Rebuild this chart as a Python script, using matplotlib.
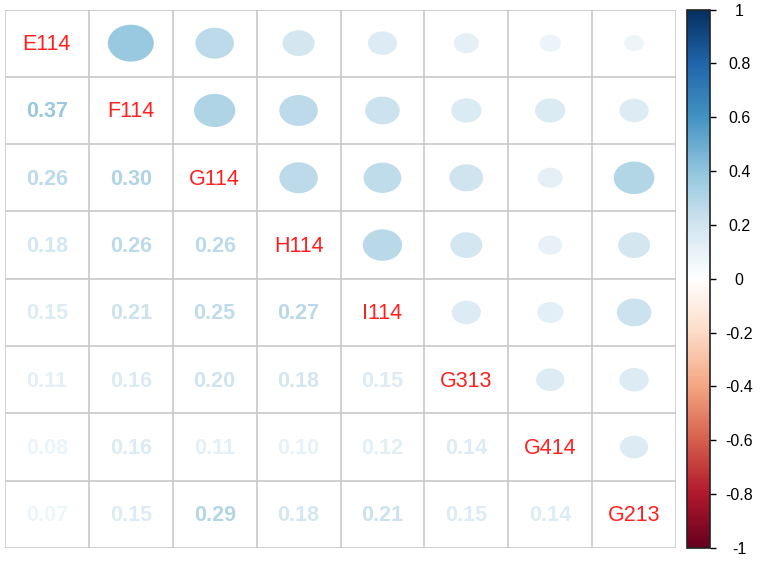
import numpy as np
import matplotlib
matplotlib.use("Agg")
import matplotlib.pyplot as plt
from matplotlib.colors import LinearSegmentedColormap, Normalize
from matplotlib.patches import Ellipse
import matplotlib.colorbar as mcolorbar

labels = ["E114", "F114", "G114", "H114", "I114", "G313", "G414", "G213"]
lower_rows = [
    [],
    [0.37],
    [0.26, 0.30],
    [0.18, 0.26, 0.26],
    [0.15, 0.21, 0.25, 0.27],
    [0.11, 0.16, 0.20, 0.18, 0.15],
    [0.08, 0.16, 0.11, 0.10, 0.12, 0.14],
    [0.07, 0.15, 0.29, 0.18, 0.21, 0.15, 0.14],
]
cbar_ticks = [-1, -0.8, -0.6, -0.4, -0.2, 0, 0.2, 0.4, 0.6, 0.8, 1]
cbar_labels = ["-1", "-0.8", "-0.6", "-0.4", "-0.2", "0", "0.2", "0.4", "0.6", "0.8", "1"]

n = len(labels)
M = np.eye(n)
for i, row in enumerate(lower_rows):
    for j, v in enumerate(row):
        M[i, j] = v
        M[j, i] = v

cmap = LinearSegmentedColormap.from_list(
    "corrRdBu",
    ["#67001F", "#B2182B", "#D6604D", "#F4A582", "#FDDBC7", "#FFFFFF",
     "#D1E5F0", "#92C5DE", "#4393C3", "#2166AC", "#053061"], N=200)
norm = Normalize(-1, 1)

W, H = 761, 561
fig = plt.figure(figsize=(W / 100, H / 100), dpi=100)
ax = fig.add_axes([5 / W, 1 - 548 / H, (676 - 5) / W, (548 - 9.5) / H])
ax.set_xlim(0, n)
ax.set_ylim(n, 0)
ax.axis("off")

grid_col = "#C8C8C8"
for k in range(n + 1):
    ax.plot([k, k], [0, n], color=grid_col, lw=1.2, zorder=1)
    ax.plot([0, n], [k, k], color=grid_col, lw=1.2, zorder=1)

for i in range(n):
    for j in range(n):
        cx, cy = j + 0.5, i + 0.5
        if i == j:
            ax.text(cx, cy + 0.02, labels[i], color="#FF2020", fontsize=15.5,
                    ha="center", va="center", family="Liberation Sans")
        elif i > j:
            v = M[i, j]
            ax.text(cx, cy + 0.02, f"{v:.2f}", color=cmap(norm(v)), fontsize=15.5,
                    fontweight="bold", ha="center", va="center",
                    family="Liberation Sans")
        else:
            v = M[i, j]
            d = 0.9 * np.sqrt(abs(v))
            ax.add_patch(Ellipse((cx, cy), d * 1.0, d, facecolor=cmap(norm(v)),
                                 edgecolor="none", zorder=2))

cax = fig.add_axes([687 / W, 1 - 548 / H, (710 - 687) / W, (548 - 9.5) / H])
cb = mcolorbar.ColorbarBase(cax, cmap=cmap, norm=norm, orientation="vertical")
cb.set_ticks(cbar_ticks)
cb.set_ticklabels(cbar_labels)
cb.outline.set_edgecolor("#222222")
cb.outline.set_linewidth(1.2)
cax.tick_params(axis="y", length=4, width=1, labelsize=11.5, pad=17, direction="out")
for t in cax.get_yticklabels():
    t.set_family("Liberation Sans")
    t.set_ha("center")

fig.savefig("out.png", dpi=100)
